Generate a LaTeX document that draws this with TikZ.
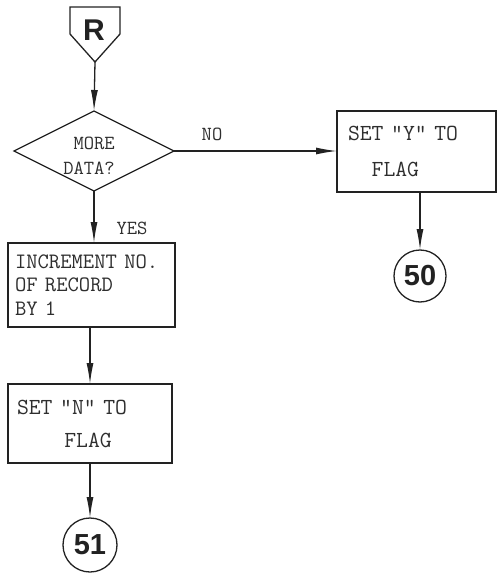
\documentclass[tikz,border=0pt]{standalone}
\usepackage{fontspec}
\newfontfamily\lblfont{Liberation Sans}
\usetikzlibrary{shapes.geometric,arrows.meta}
\definecolor{ink}{HTML}{222222}
\definecolor{txt}{HTML}{2E2E2E}
\begin{document}
\begin{tikzpicture}[x=1pt,y=-1pt,
  line/.style={draw=ink, line width=1.3pt},
  arr/.style={line, -{Latex[length=21pt,width=7pt]}},
  box/.style={draw=ink, line width=1.3pt, rectangle, inner sep=0pt, outer sep=0pt, align=left, text=txt},
  lbl/.style={text=txt, inner sep=0pt, font=\ttfamily\fontsize{20}{24}\selectfont},
  conn/.style={circle, draw=ink, line width=1.3pt, inner sep=0pt, outer sep=0pt, text=ink, font=\lblfont\bfseries\fontsize{29}{29}\selectfont}
]
\useasboundingbox (0,0) rectangle (497,578);
% entry connector R
\draw[line] (70,7) -- (120,7) -- (120,34) -- (95,62) -- (70,34) -- cycle;
\node[text=ink, inner sep=0pt, font=\lblfont\bfseries\fontsize{30}{30}\selectfont] (R) at (94,30) {R};
\coordinate (rtip) at (95,62);
% decision
\node[diamond, draw=ink, line width=1.3pt, minimum width=160pt, minimum height=80pt, inner sep=0pt, outer sep=0pt] (dia) at (94,151) {};
\node[text=txt, inner sep=0pt, align=right, font=\ttfamily\fontsize{20}{25}\selectfont] (diat) at (89,155.5) {MORE\\DATA?};
% boxes
\node[box, minimum width=167pt, minimum height=84pt, text width=153pt, font=\ttfamily\fontsize{22}{23.5}\selectfont] (inc) at (91.5,285) {INCREMENT NO.\\OF RECORD\\BY 1};
\node[box, minimum width=159pt, minimum height=81pt, text width=137pt, font=\ttfamily\fontsize{23}{36}\selectfont] (sety) at (416.5,151.5) {SET "Y" TO\\\hphantom{SE}FLAG};
\node[box, minimum width=164pt, minimum height=79pt, text width=146pt, font=\ttfamily\fontsize{23}{33}\selectfont] (setn) at (90,423.5) {SET "N" TO\\\hphantom{SETS}FLAG};
\coordinate (incout) at ([xshift=-1.5pt]inc.south);
% connectors (off-page)
\node[conn, minimum size=52pt] (c50) at (420,276) {50};
\node[conn, minimum size=54pt] (c51) at (90,545) {51};
% labels
\node[lbl] (no) at (212,134) {NO};
\node[lbl] (yes) at (132,228) {YES};
% arrows
\draw[arr] (rtip) -- (dia.north);
\draw[arr] (dia.east) -- (sety.west |- dia.east);
\draw[arr] (dia.south) -- (dia.south |- inc.north);
\draw[arr] (incout) -- (setn.north);
\draw[arr] (setn.south) -- (c51.north);
\draw[arr] (sety.south -| c50.north) -- (c50.north);
\end{tikzpicture}
\end{document}
